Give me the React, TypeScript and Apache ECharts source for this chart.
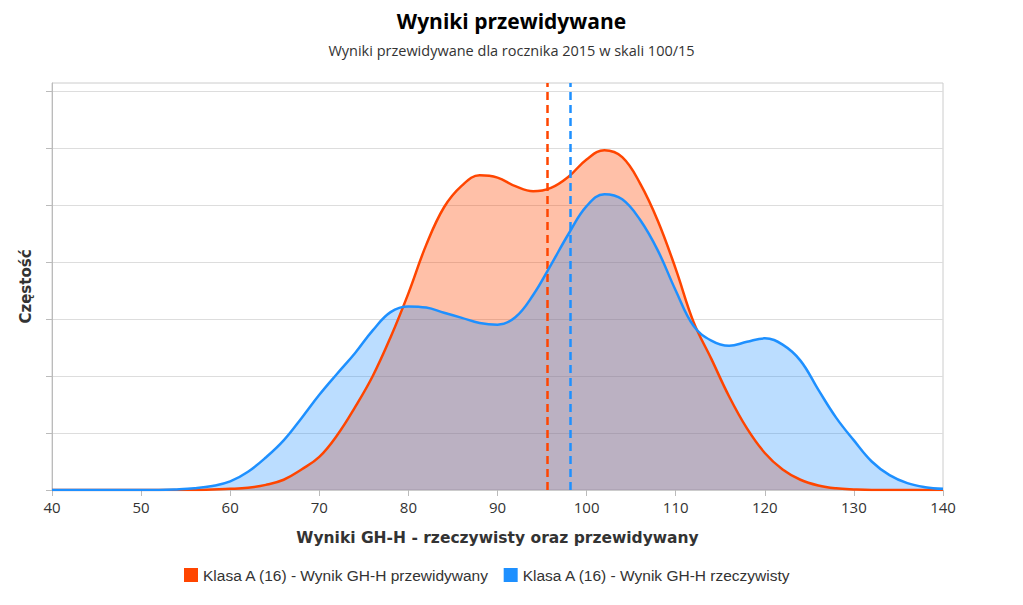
import React, { useEffect, useRef } from "react";
import * as echarts from "echarts";

const xValues = [
  40, 42, 44, 46, 48, 50, 52, 54, 56, 58, 60, 62, 64, 66, 68, 70, 72, 74, 76, 78, 80,
  82, 84, 86, 88, 90, 92, 94, 96, 98, 100, 102, 104, 106, 108, 110, 112, 114, 116, 118, 120,
  122, 124, 126, 128, 130, 132, 134, 136, 138, 140,
];

const predicted = [
  0, 0, 0, 0, 0, 0, 0, 0, 0, 0.01, 0.02, 0.04, 0.09, 0.18, 0.36, 0.58, 0.96, 1.45, 2.0, 2.68, 3.45,
  4.3, 4.96, 5.34, 5.52, 5.48, 5.33, 5.24, 5.3, 5.5, 5.8, 5.96, 5.84, 5.38, 4.72, 3.88, 2.95, 2.3, 1.64, 1.08, 0.65,
  0.36, 0.18, 0.08, 0.03, 0.01, 0, 0, 0, 0, 0,
];

const actual = [
  0, 0, 0, 0, 0, 0, 0, 0.01, 0.03, 0.07, 0.15, 0.32, 0.57, 0.87, 1.26, 1.67, 2.04, 2.4, 2.8, 3.12, 3.22,
  3.2, 3.11, 3.02, 2.93, 2.9, 3.03, 3.42, 3.95, 4.5, 4.98, 5.19, 5.1, 4.74, 4.2, 3.5, 2.88, 2.62, 2.53, 2.6, 2.66,
  2.55, 2.27, 1.76, 1.27, 0.87, 0.5, 0.26, 0.12, 0.05, 0.02,
];

const predictedMean = 95.55;
const actualMean = 98.15;

const seriesNames = [
  "Klasa A (16) - Wynik GH-H przewidywany",
  "Klasa A (16) - Wynik GH-H rzeczywisty",
];

const yTickValues = [0, 1, 2, 3, 4, 5, 6, 7];

const titleText = "Wyniki przewidywane";
const subtitleText = "Wyniki przewidywane dla rocznika 2015 w skali 100/15";
const xAxisName = "Wyniki GH-H - rzeczywisty oraz przewidywany";
const yAxisName = "Częstość";

export default function App() {
  const ref = useRef<HTMLDivElement>(null);

  useEffect(() => {
    if (!ref.current) return;
    const chart = echarts.init(ref.current, undefined, { renderer: "svg" });
    const orange = "#FF4500";
    const blue = "#1E90FF";
    const orangeData = xValues.map((x, i) => [x, predicted[i]]);
    const blueData = xValues.map((x, i) => [x, actual[i]]);
    const smooth = 0.4;
    chart.setOption({
      animation: false,
      title: {
        text: titleText,
        subtext: subtitleText,
        left: "center",
        top: 5,
        itemGap: 12,
        textStyle: {
          fontFamily: "Open Sans",
          fontSize: 21,
          fontWeight: 700,
          color: "#000",
        },
        subtextStyle: {
          fontFamily: "Open Sans",
          fontSize: 14.5,
          color: "#333",
        },
      },
      legend: {
        bottom: 17,
        left: 179,
        icon: "rect",
        itemWidth: 14,
        itemHeight: 14,
        itemGap: 14,
        textStyle: { fontFamily: "Liberation Sans", fontSize: 15.5, color: "#333" },
        data: seriesNames,
      },
      grid: {
        left: 52,
        right: 80,
        top: 83,
        bottom: 115,
        show: true,
        borderColor: "#ccc",
        borderWidth: 1,
      },
      xAxis: {
        type: "value",
        min: 40,
        max: 140,
        interval: 10,
        name: xAxisName,
        nameLocation: "middle",
        nameGap: 40,
        nameTextStyle: {
          fontFamily: "DejaVu Sans",
          fontSize: 15.5,
          fontWeight: "bold",
          color: "#333",
        },
        axisLine: { show: true, lineStyle: { color: "#ccc" } },
        axisTick: { show: true, length: 6, lineStyle: { color: "#bbb" } },
        axisLabel: { fontFamily: "Open Sans", fontSize: 15, color: "#333", margin: 9 },
        splitLine: { show: false },
      },
      yAxis: {
        type: "value",
        min: 0,
        max: 7.14,
        interval: 1,
        name: yAxisName,
        nameLocation: "middle",
        nameGap: 19,
        nameTextStyle: {
          fontFamily: "DejaVu Sans",
          fontSize: 15,
          fontWeight: "bold",
          color: "#333",
        },
        axisLine: { show: true, lineStyle: { color: "#bbb" } },
        axisTick: {
          show: true,
          length: 6,
          customValues: yTickValues,
          lineStyle: { color: "#bbb" },
        },
        axisLabel: { show: false },
        splitLine: { show: true, lineStyle: { color: "#ddd" } },
      },
      series: [
        {
          name: seriesNames[0],
          type: "line",
          smooth,
          symbol: "none",
          data: orangeData,
          itemStyle: { color: orange },
          lineStyle: { width: 0, opacity: 0 },
          areaStyle: { color: orange, opacity: 0.34 },
          z: 2,
          markLine: {
            silent: true,
            symbol: "none",
            label: { show: false },
            lineStyle: { color: orange, width: 2.5, type: [8, 5] },
            data: [{ xAxis: predictedMean }],
          },
        },
        {
          name: seriesNames[1],
          type: "line",
          smooth,
          symbol: "none",
          data: blueData,
          itemStyle: { color: blue },
          lineStyle: { width: 0, opacity: 0 },
          areaStyle: { color: blue, opacity: 0.3 },
          z: 3,
          markLine: {
            silent: true,
            symbol: "none",
            label: { show: false },
            lineStyle: { color: blue, width: 2.5, type: [8, 5] },
            data: [{ xAxis: actualMean }],
          },
        },
        {
          name: seriesNames[0],
          type: "line",
          smooth,
          symbol: "none",
          data: orangeData,
          itemStyle: { color: orange },
          lineStyle: { color: orange, width: 2.5 },
          z: 4,
        },
        {
          name: seriesNames[1],
          type: "line",
          smooth,
          symbol: "none",
          data: blueData,
          itemStyle: { color: blue },
          lineStyle: { color: blue, width: 2.5 },
          z: 5,
        },
      ],
    });
    return () => chart.dispose();
  }, []);

  return (
    <div
      ref={ref}
      style={{ position: "fixed", left: 0, top: 0, width: 1023, height: 605, background: "#fff" }}
    />
  );
}
